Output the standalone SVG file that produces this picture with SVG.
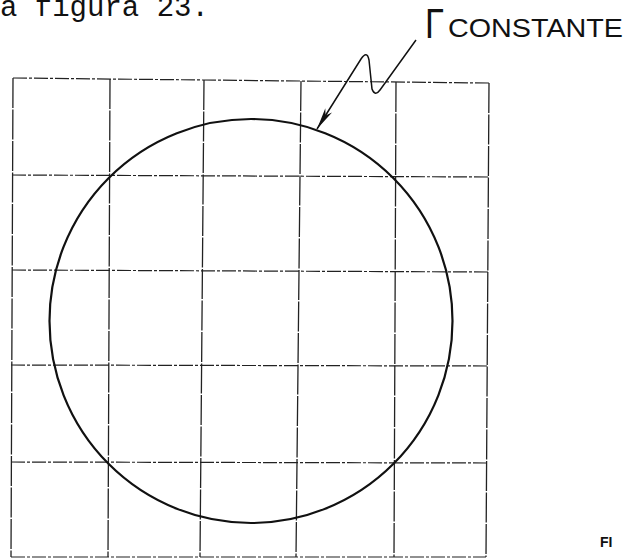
<svg xmlns="http://www.w3.org/2000/svg" width="627" height="559" viewBox="0 0 627 559">
<defs>
<style>
.h{stroke:#222;stroke-width:1.2;fill:none;stroke-dasharray:14 2 3 2}
.v{stroke:#222;stroke-width:1.3;fill:none;stroke-dasharray:30 1.5}
.c{stroke:#111;stroke-width:2.2;fill:none}
.lbl{font-family:"Liberation Sans",Arial,sans-serif;fill:#111}
</style>
<marker id="ah" viewBox="0 0 22 9" refX="22" refY="4.5" markerWidth="22" markerHeight="9" markerUnits="userSpaceOnUse" orient="auto">
<path d="M0,0.5 L22,4.5 L0,8.5 L6,4.5 Z" fill="#111"/>
</marker>
</defs>
<rect width="627" height="559" fill="#fff"/>
<text x="0" y="16" font-family="'Liberation Mono','Courier New',monospace" font-size="29" fill="#111">a figura 23.</text>
<g id="grid">
<line class="h" x1="13" y1="78" x2="489" y2="83"/>
<line class="h" x1="12" y1="175" x2="488" y2="177"/>
<line class="h" x1="12" y1="270" x2="488" y2="272"/>
<line class="h" x1="11" y1="365" x2="487" y2="366"/>
<line class="h" x1="11" y1="462" x2="486" y2="463"/>
<line class="h" x1="11" y1="557" x2="486" y2="557"/>
<line class="v" x1="13" y1="78" x2="11" y2="557"/>
<line class="v" x1="110" y1="79" x2="108" y2="557"/>
<line class="v" x1="204" y1="80" x2="200" y2="557"/>
<line class="v" x1="301" y1="81" x2="296" y2="557"/>
<line class="v" x1="396" y1="82" x2="394" y2="557"/>
<line class="v" x1="489" y1="83" x2="486" y2="557"/>
</g>
<g id="circle">
<ellipse class="c" cx="251" cy="321" rx="201.5" ry="202"/>
</g>
<g id="label">
<text class="lbl" x="425" y="38" font-size="42" textLength="19" lengthAdjust="spacingAndGlyphs">Γ</text>
<text class="lbl" x="448" y="37" font-size="26.5" textLength="175" lengthAdjust="spacingAndGlyphs">CONSTANTE</text>
</g>
<g id="connectors">
<path d="M416,40 L380,90 Q375,97 372,89 L369,60 Q367,50 361,59 L317,129" fill="none" stroke="#111" stroke-width="1.5" marker-end="url(#ah)"/>
</g>
<g id="caption">
<text x="600" y="547" font-family="'Liberation Sans',Arial,sans-serif" font-weight="bold" font-size="14" fill="#111">FI</text>
</g>
</svg>
